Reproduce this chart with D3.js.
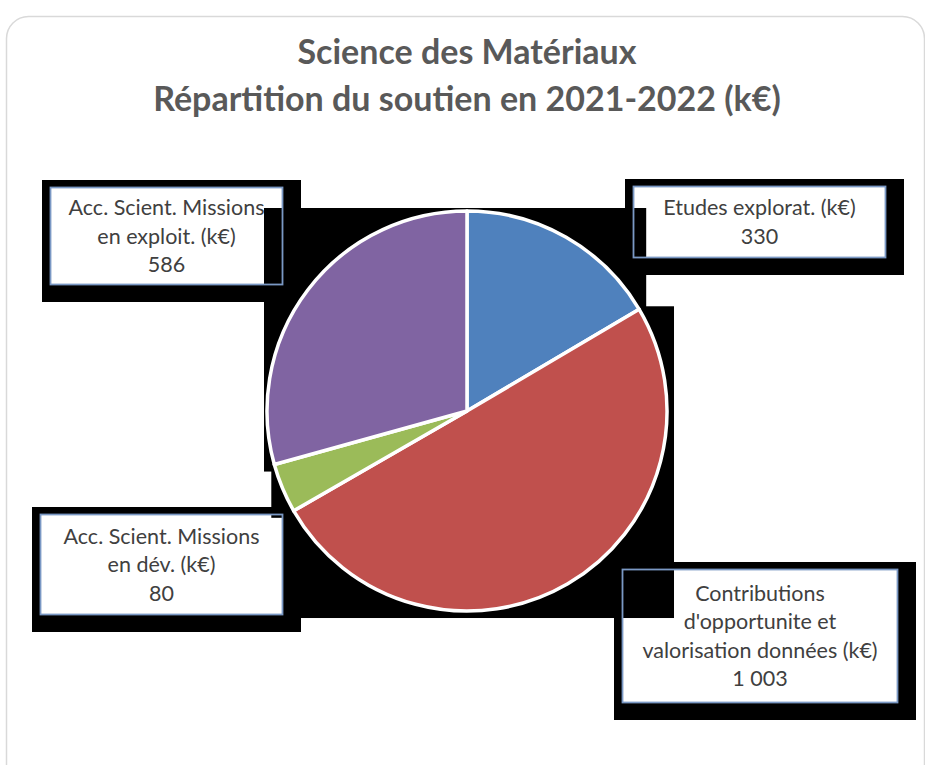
<!DOCTYPE html>
<html>
<head>
<meta charset="utf-8">
<script src="https://cdn.jsdelivr.net/npm/d3@7"></script>
<style>
  body { margin: 0; background: #fff; }
  svg { display: block; font-family: Lato, "Open Sans", sans-serif; }
</style>
</head>
<body>
<svg id="chart" width="925" height="765"></svg>
<script>
///////////////////////////////////////////////////////////
// Data
const titleLines = ["Science des Matériaux", "Répartition du soutien en 2021-2022 (k€)"];
const categories = [
  "Etudes explorat. (k€)",
  "Contributions d'opportunite et valorisation données (k€)",
  "Acc. Scient. Missions en dév. (k€)",
  "Acc. Scient. Missions en exploit. (k€)"
];
const values = [330, 1003, 80, 586];
const valueLabels = ["330", "1 003", "80", "586"];
const labelLines = [
  ["Etudes explorat. (k€)"],
  ["Contributions", "d'opportunite et", "valorisation données (k€)"],
  ["Acc. Scient. Missions", "en dév. (k€)"],
  ["Acc. Scient. Missions", "en exploit. (k€)"]
];
const colors = ["#4F81BD", "#C0504D", "#9BBB59", "#8064A2"];

///////////////////////////////////////////////////////////
// Layout
const width = 925, height = 765;
const cx = 467, cy = 411, radius = 200;
// label boxes: x, y, w, h
const labelBoxes = [
  [633, 186, 253, 72],
  [622, 569, 276, 134],
  [40, 514, 243, 101],
  [50, 187, 233, 98]
];

const svg = d3.select("#chart");

// outer frame
svg.append("rect")
  .attr("x", 6.5).attr("y", 16.5)
  .attr("width", 918).attr("height", 770)
  .attr("rx", 22).attr("ry", 22)
  .attr("fill", "#fff")
  .attr("stroke", "#d9d9d9")
  .attr("stroke-width", 1.5);

// title
svg.append("g")
  .selectAll("text")
  .data(titleLines)
  .enter().append("text")
  .attr("x", cx)
  .attr("y", (d, i) => 64 + i * 47)
  .attr("text-anchor", "middle")
  .attr("font-size", 34)
  .attr("font-weight", "bold")
  .attr("fill", "#595959")
  .text(d => d);

///////////////////////////////////////////////////////////
// Pie
const pie = d3.pie().sort(null).value(d => d);
const arcs = pie(values);
const arc = d3.arc().innerRadius(0).outerRadius(radius);

const labelShadowG = svg.append("g");
const labelFillG = svg.append("g");
const sliceShadowG = svg.append("g");
const pieG = svg.append("g").attr("transform", `translate(${cx},${cy})`);
const labelBorderG = svg.append("g");
const labelTextG = svg.append("g");

// label shadows + fills
labelShadowG.selectAll("rect")
  .data(labelBoxes)
  .enter().append("rect")
  .attr("x", d => d[0] - 8)
  .attr("y", d => d[1] - 7)
  .attr("width", d => d[2] + 26)
  .attr("height", d => d[3] + 24)
  .attr("fill", "#000");

labelFillG.selectAll("rect")
  .data(labelBoxes)
  .enter().append("rect")
  .attr("x", d => d[0])
  .attr("y", d => d[1])
  .attr("width", d => d[2])
  .attr("height", d => d[3])
  .attr("fill", "#fff");

// slices
const slices = pieG.selectAll("path")
  .data(arcs)
  .enter().append("path")
  .attr("d", arc)
  .attr("fill", (d, i) => colors[i])
  .attr("stroke", "#fff")
  .attr("stroke-width", 3.5)
  .attr("stroke-linejoin", "round");

// slice shadows, from each slice's bounding box
slices.each(function () {
  const b = this.getBBox();
  sliceShadowG.append("rect")
    .attr("x", cx + b.x - 3)
    .attr("y", cy + b.y - 3)
    .attr("width", b.width + 10)
    .attr("height", b.height + 10)
    .attr("fill", "#000");
});

// label borders
labelBorderG.selectAll("rect")
  .data(labelBoxes)
  .enter().append("rect")
  .attr("x", d => d[0] + 0.5)
  .attr("y", d => d[1] + 0.5)
  .attr("width", d => d[2] - 1)
  .attr("height", d => d[3] - 1)
  .attr("fill", "none")
  .attr("stroke", "#7a98c4")
  .attr("stroke-width", 1.8);

// label texts
labelBoxes.forEach((b, i) => {
  const lines = labelLines[i].concat([valueLabels[i]]);
  const lh = 28.5;
  const top = b[1] + b[3] / 2 - (lines.length - 1) * lh / 2;
  labelTextG.append("text")
    .attr("text-anchor", "middle")
    .attr("font-size", 21.5)
    .attr("fill", "#404040")
    .selectAll("tspan")
    .data(lines)
    .enter().append("tspan")
    .attr("x", b[0] + b[2] / 2)
    .attr("y", (d, j) => top + j * lh)
    .attr("dy", "0.35em")
    .text(d => d);
});
</script>
</body>
</html>
